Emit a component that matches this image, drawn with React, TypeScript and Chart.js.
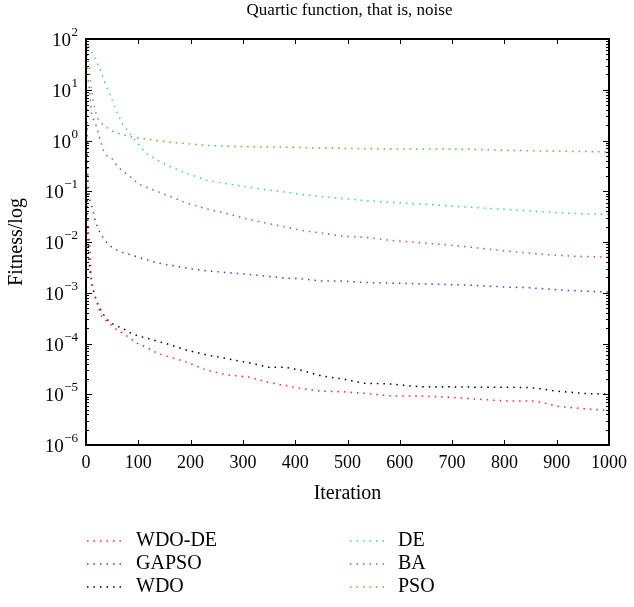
import React, { useEffect, useRef } from "react";
import { Chart, registerables } from "chart.js";

Chart.register(...registerables);

const iterations = [0, 1, 2, 4, 6, 8, 10, 13, 17, 21, 27, 32, 40, 49, 59, 70, 83, 100, 115, 135, 160, 190, 230, 270, 310, 350, 380, 410, 450, 490, 530, 580, 640, 690, 740, 800, 850, 875, 900, 925, 950, 1000];

const wdoDe = [80, 0.8, 0.04, 0.017, 0.012, 0.006, 0.002, 0.0013, 8.7e-4, 6.3e-4, 4.0e-4, 3.2e-4, 2.7e-4, 2.3e-4, 1.85e-4, 1.6e-4, 1.3e-4, 9.8e-5, 8.5e-5, 6.5e-5, 5.4e-5, 4.4e-5, 3.0e-5, 2.4e-5, 2.2e-5, 1.7e-5, 1.5e-5, 1.3e-5, 1.15e-5, 1.12e-5, 1.05e-5, 9.3e-6, 9.2e-6, 8.8e-6, 8.1e-6, 7.4e-6, 7.4e-6, 6.8e-6, 5.8e-6, 5.5e-6, 5.2e-6, 4.8e-6];
const gapso = [60, 5, 0.8, 0.15, 0.078, 0.062, 0.055, 0.043, 0.028, 0.021, 0.015, 0.0125, 0.0098, 0.008, 0.0069, 0.0062, 0.0057, 0.005, 0.0045, 0.0039, 0.0035, 0.0031, 0.0027, 0.0025, 0.0023, 0.0021, 0.00195, 0.0019, 0.0017, 0.0017, 0.0016, 0.00155, 0.0015, 0.00145, 0.0014, 0.0013, 0.00125, 0.0012, 0.00115, 0.0011, 0.00108, 0.00103];
const wdo = [80, 1.5, 0.1, 0.01, 0.004, 0.0025, 0.0018, 0.0012, 8.8e-4, 6.6e-4, 4.8e-4, 3.9e-4, 3.0e-4, 2.5e-4, 2.2e-4, 2.0e-4, 1.65e-4, 1.4e-4, 1.29e-4, 1.12e-4, 9.5e-5, 7.5e-5, 6.0e-5, 5.0e-5, 4.2e-5, 3.4e-5, 3.4e-5, 3.0e-5, 2.3e-5, 2.0e-5, 1.65e-5, 1.6e-5, 1.4e-5, 1.4e-5, 1.38e-5, 1.38e-5, 1.35e-5, 1.26e-5, 1.15e-5, 1.1e-5, 1.04e-5, 1.0e-5];
const de = [95, 90, 85, 78, 70, 62, 57, 50, 42, 34, 25, 18, 11, 6.6, 3.6, 2.1, 1.4, 0.85, 0.56, 0.42, 0.31, 0.23, 0.165, 0.14, 0.12, 0.105, 0.097, 0.087, 0.079, 0.072, 0.066, 0.061, 0.056, 0.052, 0.048, 0.044, 0.041, 0.039, 0.038, 0.037, 0.036, 0.035];
const ba = [90, 50, 25, 16, 10.8, 7, 3.6, 2.7, 2.4, 1.7, 1.05, 0.68, 0.5, 0.45, 0.32, 0.25, 0.2, 0.14, 0.12, 0.1, 0.08, 0.06, 0.045, 0.036, 0.028, 0.023, 0.02, 0.017, 0.015, 0.013, 0.0125, 0.0108, 0.0097, 0.0088, 0.0078, 0.0067, 0.006, 0.0057, 0.0055, 0.0053, 0.0052, 0.005];
const pso = [90, 80, 60, 40, 30, 18, 11, 7, 4.2, 2.9, 2.3, 2.1, 1.8, 1.55, 1.4, 1.3, 1.2, 1.12, 1.07, 1.0, 0.93, 0.87, 0.8, 0.77, 0.76, 0.75, 0.74, 0.73, 0.71, 0.7, 0.69, 0.68, 0.68, 0.68, 0.67, 0.64, 0.63, 0.62, 0.62, 0.61, 0.61, 0.59];

const seriesNames = ["WDO-DE", "GAPSO", "WDO", "DE", "BA", "PSO"];
const seriesValues = [wdoDe, gapso, wdo, de, ba, pso];
const seriesColors = ["#ff2020", "#2a4ccc", "#000000", "#30c8d0", "#c040c0", "#50c020"];

const xTicks = [0, 100, 200, 300, 400, 500, 600, 700, 800, 900, 1000];
const yExponents = [-6, -5, -4, -3, -2, -1, 0, 1, 2];

const FONT = "'Liberation Serif', 'Times New Roman', serif";
const DASH = [1.5, 5];

const decorPlugin = {
  id: "decor",
  afterDraw(chart: any) {
    const ctx = chart.ctx;
    const area = chart.chartArea;
    const xs = chart.scales.x;
    const ys = chart.scales.y;
    ctx.save();
    // frame
    ctx.strokeStyle = "#000";
    ctx.lineWidth = 2;
    ctx.setLineDash([]);
    ctx.strokeRect(area.left, area.top, area.right - area.left, area.bottom - area.top);
    // x ticks
    ctx.lineWidth = 1;
    xTicks.forEach((v) => {
      const px = Math.round(xs.getPixelForValue(v)) + 0.5;
      ctx.beginPath();
      ctx.moveTo(px, area.bottom);
      ctx.lineTo(px, area.bottom - 5);
      ctx.moveTo(px, area.top);
      ctx.lineTo(px, area.top + 5);
      ctx.stroke();
    });
    // y ticks
    yExponents.forEach((e) => {
      const major = Math.pow(10, e);
      const py = Math.round(ys.getPixelForValue(major)) + 0.5;
      ctx.lineWidth = 1.2;
      ctx.beginPath();
      ctx.moveTo(area.left, py);
      ctx.lineTo(area.left + 6, py);
      ctx.moveTo(area.right, py);
      ctx.lineTo(area.right - 6, py);
      ctx.stroke();
      ctx.lineWidth = 1;
      if (e < 2) {
        for (let m = 2; m <= 9; m++) {
          const my = Math.round(ys.getPixelForValue(m * major)) + 0.5;
          ctx.beginPath();
          ctx.moveTo(area.left, my);
          ctx.lineTo(area.left + 3, my);
          ctx.moveTo(area.right, my);
          ctx.lineTo(area.right - 3, my);
          ctx.stroke();
        }
      }
      // label
      ctx.fillStyle = "#000";
      ctx.textBaseline = "middle";
      ctx.textAlign = "right";
      const expText = e < 0 ? "\u2212" + String(-e) : String(e);
      ctx.font = "13px " + FONT;
      const rightX = area.left - 8;
      ctx.fillText(expText, rightX, py - 7);
      const ew = ctx.measureText(expText).width;
      ctx.font = "19px " + FONT;
      ctx.fillText("10", rightX - ew - 0.5, py + 2);
    });
    // title
    ctx.textAlign = "center";
    ctx.textBaseline = "middle";
    ctx.font = "17px " + FONT;
    ctx.fillText("Quartic function, that is, noise", (area.left + area.right) / 2 + 2, 11);
    // x title
    ctx.font = "20px " + FONT;
    ctx.fillText("Iteration", (area.left + area.right) / 2, 494);
    // y title
    ctx.save();
    ctx.translate(17, (area.top + area.bottom) / 2);
    ctx.rotate(-Math.PI / 2);
    ctx.fillText("Fitness/log", 0, 0);
    ctx.restore();
    // legend
    const rows = [541, 564, 587];
    const cols = [{ lx: 87, tx: 136 }, { lx: 350, tx: 398 }];
    seriesNames.forEach((name, i) => {
      const col = cols[Math.floor(i / 3)];
      const y = rows[i % 3];
      ctx.strokeStyle = seriesColors[i];
      ctx.lineWidth = 1.5;
      ctx.setLineDash(DASH);
      ctx.beginPath();
      ctx.moveTo(col.lx, y);
      ctx.lineTo(col.lx + 38, y);
      ctx.stroke();
      ctx.setLineDash([]);
      ctx.fillStyle = "#000";
      ctx.textAlign = "left";
      ctx.textBaseline = "middle";
      ctx.font = "20px " + FONT;
      ctx.fillText(name, col.tx, y);
    });
    ctx.restore();
  },
};

export default function App() {
  const ref = useRef<HTMLCanvasElement>(null);
  useEffect(() => {
    document.body.style.margin = "0";
    const canvas = ref.current;
    if (!canvas) return;
    const chart = new Chart(canvas, {
      type: "line",
      data: {
        datasets: seriesNames.map((name, i) => ({
          label: name,
          data: iterations.map((x, k) => ({ x, y: seriesValues[i][k] })),
          borderColor: seriesColors[i],
          backgroundColor: seriesColors[i],
          borderWidth: 1.5,
          borderDash: DASH,
          pointRadius: 0,
          tension: 0,
          fill: false,
        })),
      },
      options: {
        animation: false,
        responsive: false,
        maintainAspectRatio: false,
        layout: { padding: { top: 39, right: 20, left: 0, bottom: 0 } },
        plugins: { legend: { display: false }, title: { display: false }, tooltip: { enabled: false } },
        scales: {
          x: {
            type: "linear",
            min: 0,
            max: 1000,
            ticks: {
              stepSize: 100,
              autoSkip: false,
              maxRotation: 0,
              padding: 7,
              color: "#000",
              font: { family: FONT, size: 18 },
              callback: (v: any) => String(v),
            },
            grid: { display: false, drawTicks: false },
            border: { display: false },
            afterFit: (s: any) => {
              s.height = 162;
            },
          },
          y: {
            type: "logarithmic",
            min: 1e-6,
            max: 100,
            ticks: { display: false },
            grid: { display: false, drawTicks: false },
            border: { display: false },
            afterFit: (s: any) => {
              s.width = 86;
            },
          },
        },
      },
      plugins: [decorPlugin],
    } as any);
    return () => chart.destroy();
  }, []);
  return <canvas ref={ref} width={634} height={607} style={{ display: "block" }} />;
}
